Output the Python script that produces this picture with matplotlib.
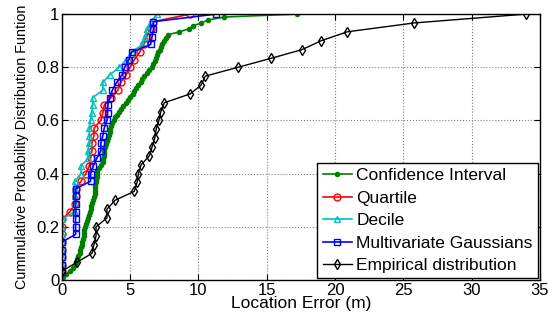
import numpy as np
import matplotlib
matplotlib.use('Agg')
import matplotlib.pyplot as plt

plt.rcParams['font.family'] = ['Liberation Sans', 'DejaVu Sans']

# Location errors (m), sorted; the CDF is built from them
conf_interval = [0.1, 0.3, 0.6, 0.8,
                 0.95, 1.0, 1.1, 1.2, 1.3,
                 1.35, 1.4, 1.45, 1.5,
                 1.55, 1.6, 1.6, 1.65, 1.7,
                 1.8, 1.85, 1.9, 2.0,
                 2.05, 2.1, 2.15, 2.2, 2.3,
                 2.35, 2.4, 2.4, 2.45,
                 2.45, 2.5, 2.5, 2.55, 2.55,
                 2.6, 2.7, 2.85, 3.0,
                 3.0, 3.05, 3.1, 3.1, 3.15,
                 3.2, 3.3, 3.35, 3.45,
                 3.5, 3.55, 3.6, 3.7, 3.8,
                 3.9, 4.0, 4.2, 4.35,
                 4.5, 4.7, 4.85, 5.0, 5.2,
                 5.3, 5.45, 5.6, 5.8,
                 5.9, 6.0, 6.2, 6.4, 6.6,
                 6.7, 6.8, 6.9, 6.95,
                 7.05, 7.15, 7.25, 7.35, 7.5,
                 7.6, 7.8, 8.6, 9.3, 9.6, 10.2, 10.7, 11.9, 17.2]

quartile = [0, 0, 0, 0, 0, 0, 0, 0,
            0.6, 0.95, 1.0, 1.0, 1.4, 1.75, 2.0, 2.1, 2.2, 2.2,
            2.35, 2.35, 2.85, 3.0, 3.1, 3.6, 4.1, 4.3, 4.7, 5.0,
            5.3, 5.7, 6.0, 6.2, 6.5, 6.7, 9.4]

decile = [0, 0, 0, 0, 0, 0, 0, 0,
          0.95, 0.95, 0.95, 0.95, 0.95, 1.4, 1.4, 1.9, 1.9, 2.0,
          2.0, 2.0, 2.1, 2.2, 2.25, 2.25, 3.0, 3.0, 3.5, 4.2,
          4.7, 5.1, 5.9, 6.1, 6.2, 6.5, 7.0]

mv_gauss = [0, 0, 0, 0, 0,
            1.0, 1.0, 1.0, 1.0, 1.0, 1.0, 1.0,
            2.1, 2.1, 2.3, 2.55, 2.85, 2.85, 3.0, 3.1, 3.3, 3.35,
            3.35, 3.5, 3.7, 4.0, 4.4, 4.6, 4.9, 5.1, 6.5, 6.6,
            6.7, 6.7, 11.3]

empirical = [0, 1.1, 2.2, 2.35, 2.5, 2.5, 3.3, 3.3, 3.9, 5.3,
             5.5, 5.6, 5.8, 6.4, 6.6, 6.8, 6.9, 7.1, 7.25, 7.5,
             9.4, 10.2, 10.5, 12.9, 15.3, 17.6, 19.0, 20.9, 25.8, 34.0]

def cdf(errors):
    e = np.sort(np.array(errors, dtype=float))
    return e, np.arange(1, len(e) + 1) / len(e)

fig = plt.figure(figsize=(5.48, 3.2), dpi=100)
ax = fig.add_axes([0.113, 0.125, 0.872, 0.831])

x, y = cdf(conf_interval)
ax.plot(x, y, color='#008000', marker='.', markersize=6, lw=1.2,
        label='Confidence Interval')
x, y = cdf(quartile)
ax.plot(x, y, color='red', marker='o', markersize=5, mfc='none', mew=1,
        lw=1.2, label='Quartile')
x, y = cdf(decile)
ax.plot(x, y, color='#00c0c0', marker='^', markersize=5, mfc='none', mew=1,
        lw=1.2, label='Decile')
x, y = cdf(mv_gauss)
ax.plot(x, y, color='blue', marker='s', markersize=4.5, mfc='none', mew=1,
        lw=1.2, label='Multivariate Gaussians')
x, y = cdf(empirical)
ax.plot(x, y, color='black', marker='d', markersize=5, mfc='none', mew=1,
        lw=1.0, label='Empirical distribution')

ax.set_xlim(0, 35)
ax.set_ylim(0, 1)
ax.set_xticks(np.arange(0, 36, 5))
ax.set_yticks([0, 0.2, 0.4, 0.6, 0.8, 1])
ax.set_yticklabels(['0', '0.2', '0.4', '0.6', '0.8', '1'])
ax.grid(True, linestyle=':', color='#808080', linewidth=0.8)
ax.tick_params(direction='in', top=True, right=True, length=4, labelsize=12,
               pad=2)
for s in ax.spines.values():
    s.set_linewidth(1.0)

ax.set_xlabel('Location Error (m)', fontsize=12.5, labelpad=-1)
ax.set_ylabel('Cummulative Probability Distribution Funtion', fontsize=10.4,
              labelpad=5)

leg = ax.legend(loc='lower right', fontsize=12.5, fancybox=False, framealpha=1,
                edgecolor='black', borderaxespad=0.1, handlelength=1.7,
                handletextpad=0.25, labelspacing=0.42, borderpad=0.3)
leg.get_frame().set_linewidth(1.0)

fig.savefig('out.png', dpi=100)
